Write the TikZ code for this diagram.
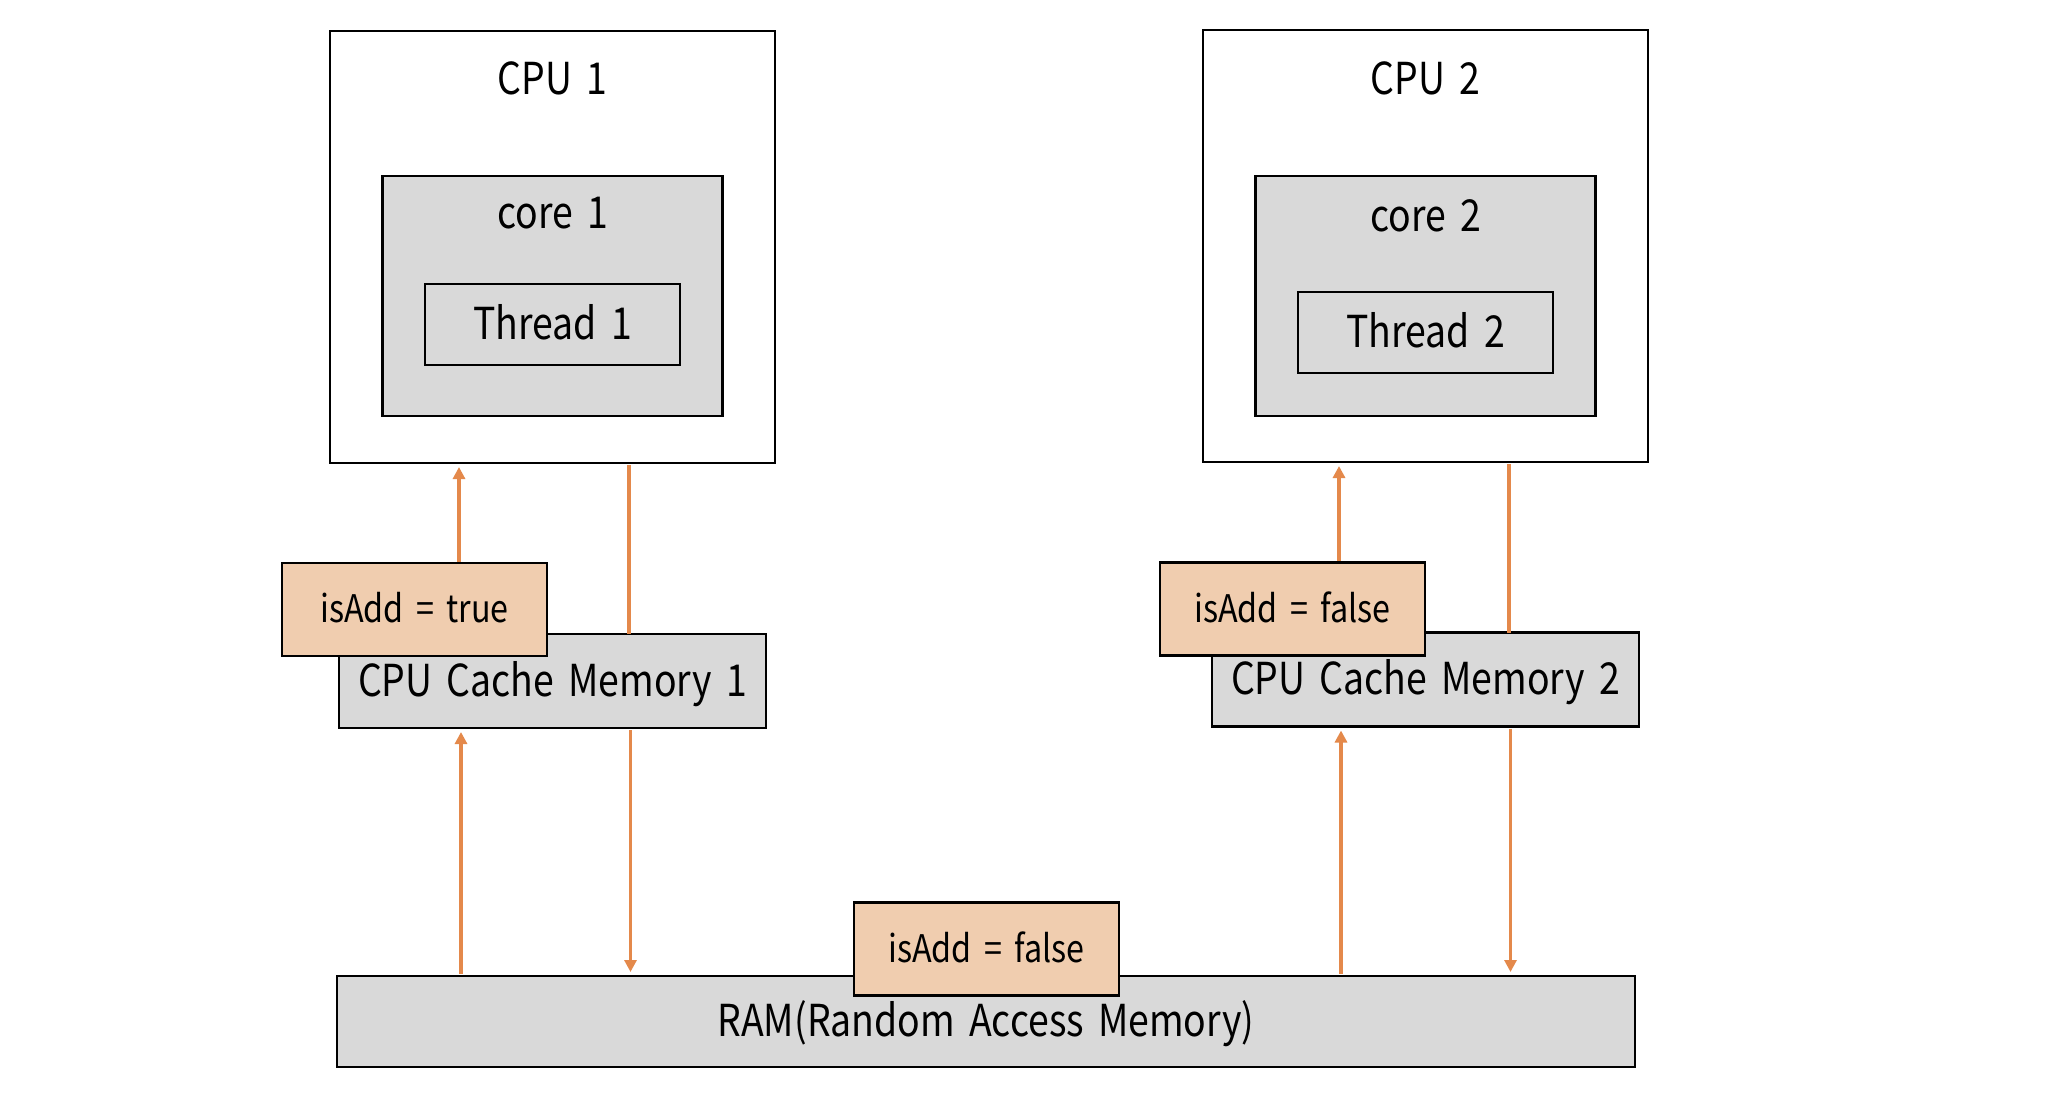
\documentclass[tikz,border=0pt]{standalone}
\usepackage{fontspec}
\setmainfont[FakeStretch=0.85, WordSpace=1.7]{Noto Sans CJK KR}
\usetikzlibrary{arrows.meta,calc}
\definecolor{arrorange}{HTML}{E4894B}
\definecolor{notefill}{HTML}{F0CDAF}
\definecolor{boxgray}{HTML}{D9D9D9}
\begin{document}
\begin{tikzpicture}[x=0.5pt,y=-0.5pt]
    \tikzstyle{box}=[draw, line width=1.2pt, inner sep=0pt, outer sep=0pt, text height=15pt, text depth=0pt, font=\fontsize{22}{26}\selectfont]
    \tikzstyle{cpu}=[box, fill=white, minimum width=222.5pt, minimum height=216pt]
    \tikzstyle{core}=[box, fill=boxgray, minimum width=170pt, minimum height=120pt]
    \tikzstyle{thread}=[box, fill=boxgray, minimum width=127.5pt, minimum height=40.5pt]
    \tikzstyle{cache}=[box, fill=boxgray, minimum width=213.5pt, minimum height=47pt]
    \tikzstyle{note}=[box, fill=notefill, minimum width=132.5pt, minimum height=46.5pt, text height=13pt, font=\fontsize{19}{23}\selectfont]
    \tikzstyle{title}=[inner sep=0pt, anchor=base, font=\fontsize{22}{26}\selectfont]
    \tikzstyle{arr}=[draw=arrorange, line width=1.7pt, -{Triangle[length=6pt,width=6pt]}, shorten >=2pt, shorten <=1pt]
    \tikzstyle{wire}=[draw=arrorange, line width=1.7pt, shorten <=1pt]

    \useasboundingbox[fill=white] (0,0) rectangle (2064,1108);

    % CPU 1
    \node[cpu] (cpu1) at (552.5, 247) {};
    \node[title] (cpu1t) at (552.5, 94) {CPU 1};
    \node[core] (core1) at (552.5, 296) {};
    \node[title] (core1t) at (552.5, 228) {core 1};
    \node[thread] (thread1) at (552.5, 324.5) {Thread 1};

    % CPU 2
    \node[cpu] (cpu2) at (1425.5, 246) {};
    \node[title] (cpu2t) at (1425.5, 94) {CPU 2};
    \node[core] (core2) at (1425.5, 296) {};
    \node[title] (core2t) at (1425.5, 231) {core 2};
    \node[thread] (thread2) at (1425.5, 332.5) {Thread 2};

    \node[cache] (cache1) at (552.5, 681) {CPU Cache Memory 1};
    \node[cache] (cache2) at (1425.5, 679.5) {CPU Cache Memory 2};
    \node[box, fill=boxgray, minimum width=649pt, minimum height=45.5pt] (ram) at (986, 1021.5) {RAM(Random Access Memory)};

    \coordinate (up1) at ($(cache1.south)+(-91.5,0)$);
    \coordinate (down1) at ($(cache1.south)+(78,0)$);
    \coordinate (up2) at ($(cache2.south)+(-84.5,0)$);
    \coordinate (down2) at ($(cache2.south)+(85,0)$);

    \draw[arr] ($(cache1.north)+(-93.5,0)$) -- ($(cpu1.south)+(-93.5,0)$);
    \draw[wire] ($(cpu1.south)+(76.5,0)$) -- ($(cache1.north)+(76.5,0)$);
    \draw[arr] (up1 |- ram.north) -- (up1);
    \draw[arr] (down1) -- (down1 |- ram.north);

    \draw[arr] ($(cache2.north)+(-86.5,0)$) -- ($(cpu2.south)+(-86.5,0)$);
    \draw[wire] ($(cpu2.south)+(83.5,0)$) -- ($(cache2.north)+(83.5,0)$);
    \draw[arr] (up2 |- ram.north) -- (up2);
    \draw[arr] (down2) -- (down2 |- ram.north);

    \node[note] (flag1) at (414.5, 609.5) {isAdd = true};
    \node[note] (flag2) at (1292.5, 609) {isAdd = false};
    \node[note] (flagram) at (986.5, 949) {isAdd = false};
\end{tikzpicture}
\end{document}
